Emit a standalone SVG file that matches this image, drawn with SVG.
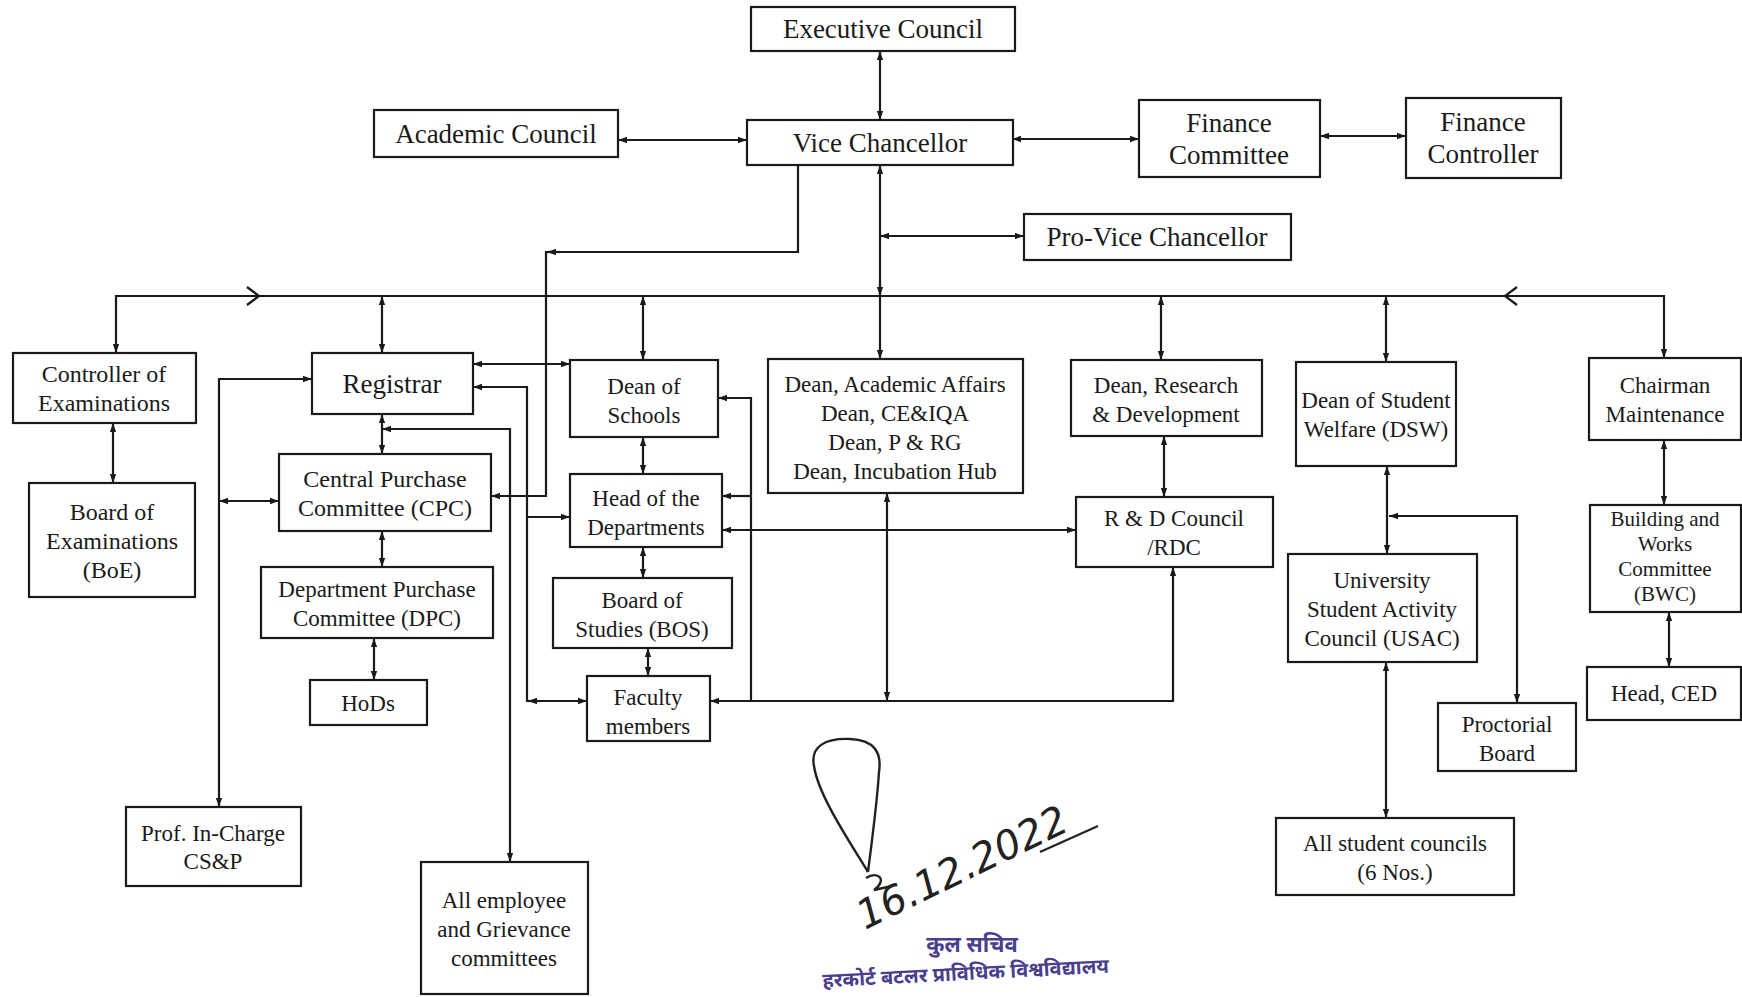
<svg xmlns="http://www.w3.org/2000/svg" width="1742" height="997" viewBox="0 0 1742 997">
<style>
rect.b{fill:#fff;stroke:#1a1a1a;stroke-width:2.2}
text{font-family:"Liberation Serif","Times New Roman",serif;font-size:24px;fill:#1a1a1a;text-anchor:middle}
.big{font-size:27px}
.sm{font-size:23px}
.xs{font-size:21px}
#connectors path{fill:none;stroke:#1a1a1a;stroke-width:2.2}
.bi{marker-start:url(#a);marker-end:url(#a)}
.e{marker-end:url(#a)}
.s{marker-start:url(#a)}
.hindi{font-family:"Noto Sans Devanagari","Lohit Devanagari","Noto Sans","DejaVu Sans",sans-serif;fill:#4a3f8c;font-weight:bold}
</style>
<defs>
<marker id="a" viewBox="0 0 10 10" refX="10" refY="5" markerWidth="9" markerHeight="9" markerUnits="userSpaceOnUse" orient="auto-start-reverse"><path d="M0,1.5 L10,5 L0,8.5 Z" fill="#1a1a1a"/></marker>
</defs>
<rect width="1742" height="997" fill="#fff"/>

<g id="connectors">
<path class="bi" d="M880,51 V120"/>
<path class="bi" d="M618,140 H747"/>
<path class="bi" d="M1012,139 H1139"/>
<path class="bi" d="M1320,136 H1406"/>
<path class="bi" d="M880,165 V359"/>
<path class="e" d="M880,282 V296"/>
<path class="bi" d="M880,236 H1024"/>
<path class="bi" d="M116,353 V296 H1664 V358"/>
<path d="M247,287 L259,296 L247,305"/>
<path d="M1517,287 L1505,296 L1517,305"/>
<path class="bi" d="M382,296 V353"/>
<path class="bi" d="M643,296 V360"/>
<path class="bi" d="M1161,296 V360"/>
<path class="bi" d="M1386,296 V362"/>
<path class="bi" d="M113,423 V483"/>
<path class="e" d="M798,165 V252 H546 V496 H491"/>
<path class="e" d="M560,252 H547"/>
<path class="bi" d="M473,364 H570"/>
<path class="bi" d="M473,387 H527 V701 H587"/>
<path class="e" d="M540,701 H528"/>
<path class="e" d="M527,517 H570"/>
<path class="bi" d="M382,414 V454"/>
<path class="bi" d="M510,862 V429 H382"/>
<path class="bi" d="M312,379 H219 V807"/>
<path class="bi" d="M219,501 H279"/>
<path class="bi" d="M382,531 V567"/>
<path class="bi" d="M374,638 V680"/>
<path class="bi" d="M643,437 V474"/>
<path class="bi" d="M643,547 V578"/>
<path class="bi" d="M648,648 V676"/>
<path class="s" d="M718,398 H751 V701"/>
<path class="s" d="M722,496 H751"/>
<path class="bi" d="M710,701 H1173 V567"/>
<path class="bi" d="M887,493 V701"/>
<path class="bi" d="M722,530 H1076"/>
<path class="bi" d="M1164,436 V497"/>
<path class="bi" d="M1387,466 V554"/>
<path class="bi" d="M1517,703 V516 H1389"/>
<path class="bi" d="M1386,662 V818"/>
<path class="bi" d="M1664,440 V505"/>
<path class="bi" d="M1669,612 V667"/>
</g>

<g id="executive-council"><rect class="b" x="751" y="7" width="264" height="44"/><text class="big" x="883" y="38">Executive Council</text></g>
<g id="academic-council"><rect class="b" x="374" y="110" width="244" height="47"/><text class="big" x="496" y="143">Academic Council</text></g>
<g id="vice-chancellor"><rect class="b" x="747" y="120" width="266" height="45"/><text class="big" x="880" y="152">Vice Chancellor</text></g>
<g id="finance-committee"><rect class="b" x="1139" y="100" width="181" height="77"/><text class="big" x="1229" y="132">Finance</text><text class="big" x="1229" y="164">Committee</text></g>
<g id="finance-controller"><rect class="b" x="1406" y="98" width="155" height="80"/><text class="big" x="1483" y="131">Finance</text><text class="big" x="1483" y="163">Controller</text></g>
<g id="pro-vice-chancellor"><rect class="b" x="1024" y="214" width="267" height="46"/><text class="big" x="1157" y="246">Pro-Vice Chancellor</text></g>

<g id="controller-of-examinations"><rect class="b" x="13" y="353" width="183" height="70"/><text x="104" y="382">Controller of</text><text x="104" y="411">Examinations</text></g>
<g id="board-of-examinations"><rect class="b" x="29" y="483" width="166" height="114"/><text x="112" y="520">Board of</text><text x="112" y="549">Examinations</text><text x="112" y="578">(BoE)</text></g>
<g id="registrar"><rect class="b" x="312" y="353" width="161" height="61"/><text class="big" x="392" y="393">Registrar</text></g>
<g id="cpc"><rect class="b" x="279" y="454" width="212" height="77"/><text x="385" y="487">Central Purchase</text><text x="385" y="516">Committee (CPC)</text></g>
<g id="dpc"><rect class="b" x="261" y="567" width="232" height="71"/><text class="sm" x="377" y="597">Department Purchase</text><text class="sm" x="377" y="626">Committee (DPC)</text></g>
<g id="hods"><rect class="b" x="310" y="680" width="117" height="45"/><text class="sm" x="368" y="711">HoDs</text></g>
<g id="prof-in-charge"><rect class="b" x="126" y="807" width="175" height="79"/><text class="sm" x="213" y="841">Prof. In-Charge</text><text class="sm" x="213" y="869">CS&amp;P</text></g>
<g id="all-employee"><rect class="b" x="421" y="862" width="167" height="132"/><text class="sm" x="504" y="908">All employee</text><text class="sm" x="504" y="937">and Grievance</text><text class="sm" x="504" y="966">committees</text></g>

<g id="dean-of-schools"><rect class="b" x="570" y="360" width="148" height="77"/><text class="sm" x="644" y="394">Dean of</text><text class="sm" x="644" y="423">Schools</text></g>
<g id="head-of-departments"><rect class="b" x="570" y="474" width="152" height="73"/><text class="sm" x="646" y="506">Head of the</text><text class="sm" x="646" y="535">Departments</text></g>
<g id="board-of-studies"><rect class="b" x="553" y="578" width="179" height="70"/><text class="sm" x="642" y="608">Board of</text><text class="sm" x="642" y="637">Studies (BOS)</text></g>
<g id="faculty-members"><rect class="b" x="587" y="676" width="123" height="65"/><text class="sm" x="648" y="705">Faculty</text><text class="sm" x="648" y="734">members</text></g>
<g id="dean-academic"><rect class="b" x="768" y="359" width="255" height="134"/><text class="sm" x="895" y="392">Dean, Academic Affairs</text><text class="sm" x="895" y="421">Dean, CE&amp;IQA</text><text class="sm" x="895" y="450">Dean, P &amp; RG</text><text class="sm" x="895" y="479">Dean, Incubation Hub</text></g>
<g id="dean-research"><rect class="b" x="1071" y="360" width="191" height="76"/><text class="sm" x="1166" y="393">Dean, Research</text><text class="sm" x="1166" y="422">&amp; Development</text></g>
<g id="rd-council"><rect class="b" x="1076" y="497" width="197" height="70"/><text class="sm" x="1174" y="526">R &amp; D Council</text><text class="sm" x="1174" y="555">/RDC</text></g>
<g id="dsw"><rect class="b" x="1296" y="362" width="160" height="104"/><text class="sm" x="1376" y="408">Dean of Student</text><text class="sm" x="1376" y="437">Welfare (DSW)</text></g>
<g id="usac"><rect class="b" x="1288" y="554" width="189" height="108"/><text class="sm" x="1382" y="588">University</text><text class="sm" x="1382" y="617">Student Activity</text><text class="sm" x="1382" y="646">Council (USAC)</text></g>
<g id="proctorial-board"><rect class="b" x="1438" y="703" width="138" height="68"/><text class="sm" x="1507" y="732">Proctorial</text><text class="sm" x="1507" y="761">Board</text></g>
<g id="all-student-councils"><rect class="b" x="1276" y="818" width="238" height="77"/><text class="sm" x="1395" y="851">All student councils</text><text class="sm" x="1395" y="880">(6 Nos.)</text></g>
<g id="chairman-maintenance"><rect class="b" x="1589" y="358" width="152" height="82"/><text class="sm" x="1665" y="393">Chairman</text><text class="sm" x="1665" y="422">Maintenance</text></g>
<g id="bwc"><rect class="b" x="1590" y="505" width="151" height="107"/><text class="xs" x="1665" y="526">Building and</text><text class="xs" x="1665" y="551">Works</text><text class="xs" x="1665" y="576">Committee</text><text class="xs" x="1665" y="601">(BWC)</text></g>
<g id="head-ced"><rect class="b" x="1587" y="667" width="154" height="53"/><text class="sm" x="1664" y="701">Head, CED</text></g>

<g id="signature">
<path d="M868,872 C846,836 818,794 814,766 C810,746 826,738 850,739 C874,740 882,752 879,772 C877,804 872,840 868,872 M866,878 C878,870 888,880 874,890 L892,886" fill="none" stroke="#222" stroke-width="2.4"/>
<text x="0" y="0" transform="translate(865,930) rotate(-26)" style="font-family:'DejaVu Sans',sans-serif;font-style:italic;font-size:40px;fill:#222;text-anchor:start">16.12.2022</text>
<path d="M1040,852 L1098,826" fill="none" stroke="#222" stroke-width="2.2"/>
<text class="hindi" x="972" y="952" style="font-size:22px">कुल सचिव</text>
<text class="hindi" x="966" y="980" transform="rotate(-3 966 980)" style="font-size:20px">हरकोर्ट बटलर प्राविधिक विश्वविद्यालय</text>
</g>
</svg>
